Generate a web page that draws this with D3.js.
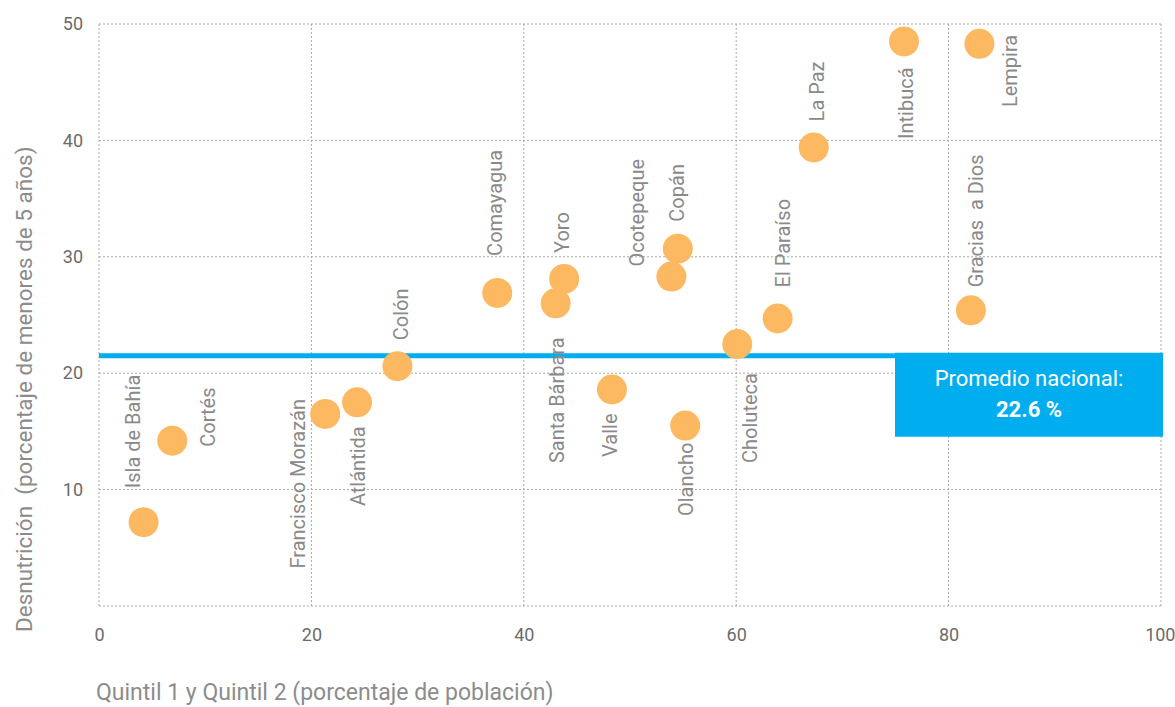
<!DOCTYPE html>
<html>
<head>
<meta charset="utf-8">
<script src="https://cdn.jsdelivr.net/npm/d3@7"></script>
<style>
  body { margin: 0; background: #fff; }
  svg text { font-family: Roboto, "Liberation Sans", sans-serif; }
</style>
</head>
<body>
<svg id="chart" width="1175" height="707"></svg>
<script>
// departamentos de Honduras
var departamentos = ["Isla de Bahía", "Cortés", "Francisco Morazán", "Atlántida", "Colón",
  "Comayagua", "Yoro", "Santa Bárbara", "Valle", "Ocotepeque", "Copán", "Olancho",
  "Choluteca", "El Paraíso", "La Paz", "Intibucá", "Lempira", "Gracias  a Dios"];
// quintil 1 y 2 (% poblacion)
var quintil = [4.2, 6.9, 21.3, 24.3, 28.1, 37.5, 43.8, 43.0, 48.3, 53.9, 54.5, 55.2,
  60.1, 63.9, 67.3, 75.8, 82.9, 82.1];
// desnutricion (% menores de 5 anos)
var desnutricion = [7.2, 14.2, 16.5, 17.5, 20.6, 26.9, 28.1, 26.0, 18.6, 28.3, 30.7, 15.5,
  22.5, 24.7, 39.4, 48.5, 48.3, 25.4];
var xTicks = [0, 20, 40, 60, 80, 100];
var yTicks = [10, 20, 30, 40, 50];
var promedioNacional = 22.6;
var lineaPromedio = 21.5; // donde esta dibujada la linea en el original

// donde va cada etiqueta (px respecto al punto)
var etiquetas = {
  "Isla de Bahía": [-4, -34, "start"],
  "Cortés": [43, 6, "start"],
  "Francisco Morazán": [-20, -15, "end"],
  "Atlántida": [8, 24, "end"],
  "Colón": [11, -26, "start"],
  "Comayagua": [5, -37, "start"],
  "Yoro": [5, -26, "start"],
  "Santa Bárbara": [8, 34, "end"],
  "Valle": [5, 24, "end"],
  "Ocotepeque": [-27, -10, "start"],
  "Copán": [6, -27, "start"],
  "Olancho": [8, 17, "end"],
  "Choluteca": [20, 29, "end"],
  "El Paraíso": [12, -31, "start"],
  "La Paz": [10, -26, "start"],
  "Intibucá": [9, 26, "end"],
  "Lempira": [38, -9, "end"],
  "Gracias  a Dios": [12, -23, "start"]
};

var svg = d3.select("#chart"),
  margin = {top: 24, right: 14, bottom: 101, left: 99},
  width = +svg.attr("width") - margin.left - margin.right,
  height = +svg.attr("height") - margin.top - margin.bottom;

var g = svg.append("g").attr("transform", "translate(" + margin.left + "," + margin.top + ")");

var x = d3.scaleLinear().domain([0, 100]).range([0, width]);
var y = d3.scaleLinear().domain([0, 50]).range([height, 0]);

// rejilla punteada
g.append("g").selectAll("line")
  .data(xTicks)
  .enter().append("line")
  .attr("x1", function(d) { return x(d); })
  .attr("x2", function(d) { return x(d); })
  .attr("y1", 0)
  .attr("y2", height)
  .attr("stroke", "#a8a8a8")
  .attr("stroke-dasharray", "2,2");

g.append("g").selectAll("line")
  .data([0].concat(yTicks))
  .enter().append("line")
  .attr("x1", 0)
  .attr("x2", width)
  .attr("y1", function(d) { return y(d); })
  .attr("y2", function(d) { return y(d); })
  .attr("stroke", "#a8a8a8")
  .attr("stroke-dasharray", "2,2");

// ejes (solo textos)
var xAxis = g.append("g")
  .attr("transform", "translate(0," + height + ")")
  .call(d3.axisBottom(x).tickValues(xTicks).tickSize(0).tickPadding(22));
var yAxis = g.append("g")
  .call(d3.axisLeft(y).tickValues(yTicks).tickSize(0).tickPadding(16));
[xAxis, yAxis].forEach(function(a) {
  a.select(".domain").remove();
  a.selectAll("text")
    .attr("font-family", "Roboto, sans-serif")
    .attr("font-size", 18)
    .attr("fill", "#6b6b6b");
});
// el 100 queda pegado al borde derecho
xAxis.selectAll(".tick:last-of-type text").attr("text-anchor", "end").attr("dx", 14);

// linea del promedio
g.append("line")
  .attr("x1", 0)
  .attr("x2", width + 2)
  .attr("y1", y(lineaPromedio))
  .attr("y2", y(lineaPromedio))
  .attr("stroke", "#00aeef")
  .attr("stroke-width", 5);

var boxW = 268, boxH = 84;
var box = g.append("g")
  .attr("transform", "translate(" + (width + 2 - boxW) + "," + (y(lineaPromedio) - 3) + ")");
box.append("rect")
  .attr("width", boxW)
  .attr("height", boxH)
  .attr("fill", "#00aeef");
box.append("text")
  .attr("x", boxW / 2)
  .attr("y", 33)
  .attr("text-anchor", "middle")
  .attr("fill", "#fff")
  .attr("font-size", 22)
  .text("Promedio nacional:");
box.append("text")
  .attr("x", boxW / 2)
  .attr("y", 64)
  .attr("text-anchor", "middle")
  .attr("fill", "#fff")
  .attr("font-size", 22)
  .attr("font-weight", "bold")
  .text(d3.format(".1f")(promedioNacional) + " %");

// puntos
var datos = departamentos.map(function(d, i) {
  return {name: d, q: quintil[i], v: desnutricion[i]};
});

g.append("g").selectAll("circle")
  .data(datos)
  .enter().append("circle")
  .attr("cx", function(d) { return x(d.q); })
  .attr("cy", function(d) { return y(d.v); })
  .attr("r", 15)
  .attr("fill", "#fdb962");

g.append("g").selectAll("text")
  .data(datos)
  .enter().append("text")
  .attr("transform", function(d) {
    var o = etiquetas[d.name];
    return "translate(" + (x(d.q) + o[0]) + "," + (y(d.v) + o[1]) + ") rotate(-90)";
  })
  .attr("text-anchor", function(d) { return etiquetas[d.name][2]; })
  .attr("font-size", 20)
  .attr("fill", "#8a8a8a")
  .style("white-space", "pre")
  .text(function(d) { return d.name; });

// titulos de ejes
svg.append("text")
  .attr("x", 96)
  .attr("y", 700)
  .attr("font-size", 23)
  .attr("fill", "#8c8c8c")
  .text("Quintil 1 y Quintil 2 (porcentaje de población)");

svg.append("text")
  .attr("transform", "translate(32,632) rotate(-90)")
  .attr("font-size", 22.5)
  .attr("fill", "#8c8c8c")
  .style("white-space", "pre")
  .text("Desnutrición  (porcentaje de menores de 5 años)");
</script>
</body>
</html>
